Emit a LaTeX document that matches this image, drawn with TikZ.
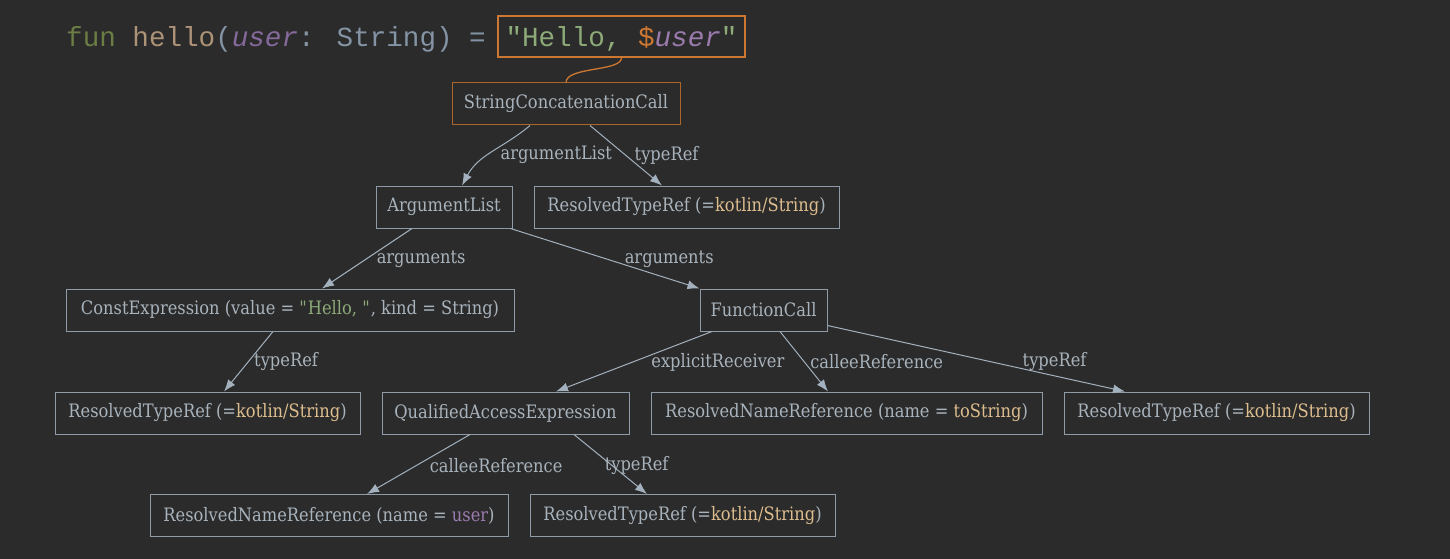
\documentclass[tikz,border=0pt]{standalone}
\usepackage{fontspec}
\setmainfont{DejaVu Serif}[FakeStretch=0.88]
\newfontfamily\codefont{Liberation Mono}
\usetikzlibrary{arrows.meta,calc}
\definecolor{bg}{HTML}{2B2B2B}
\definecolor{fg}{HTML}{A9B3BC}
\definecolor{edgecol}{HTML}{A3B1BE}
\definecolor{boxcol}{HTML}{8F9BA6}
\definecolor{orng}{HTML}{CC7832}
\definecolor{strgreen}{HTML}{8DAA78}
\definecolor{tan}{HTML}{DDBD8E}
\definecolor{purp}{HTML}{9B7BAE}
\definecolor{cfun}{HTML}{6B7D45}
\definecolor{chello}{HTML}{AC9277}
\definecolor{cpunct}{HTML}{8494A4}
\definecolor{cuser}{HTML}{85699A}
\tikzset{
  astnode/.style={draw=boxcol, line width=1pt, text=fg, font=\fontsize{18.5}{22}\selectfont, minimum height=42pt, inner sep=0pt},
  rootnode/.style={astnode, draw=orng!85!black},
  edge/.style={draw=edgecol, line width=1pt, -{Latex[length=12pt,width=9pt]}},
  lbl/.style={text=fg, font=\fontsize{18.5}{22}\selectfont, anchor=west, inner sep=0pt, yshift=-2pt},
  codetext/.style={font=\codefont\fontsize{27.6}{30}\selectfont}
}
\begin{document}
\begin{tikzpicture}[x=1pt,y=-1pt]
\useasboundingbox (0,0) rectangle (1450,559);
\fill[bg] (0,0) rectangle (1450,559);
% code line
\node[codetext, anchor=base west, inner sep=0pt] (code) at (66,47)
  {\textcolor{cfun}{fun} \textcolor{chello}{hello}\textcolor{cpunct}{(}\textcolor{cuser}{\itshape user}\textcolor{cpunct}{: String) =}};
\node[codetext, draw=orng, line width=1.5pt, minimum width=247pt, minimum height=41pt, inner sep=0pt, text height=21pt, text depth=0pt] (codebox) at (621.5,36.5)
  {\textcolor{strgreen}{\textquotedbl Hello, }\textcolor{orng}{\$}\textcolor{purp}{\itshape user}\textcolor{strgreen}{\textquotedbl}};
% nodes
\node[rootnode, minimum width=228pt] (scc) at (566,104) {StringConcatenationCall};
\node[astnode, minimum width=136pt] (al) at (444,207) {ArgumentList};
\node[astnode, minimum width=305pt] (rtr1) at (686.5,207) {ResolvedTypeRef (=\textcolor{tan}{kotlin/String})};
\node[astnode, minimum width=448pt] (ce) at (290,310) {ConstExpression (value = \textcolor{strgreen}{\textquotedbl Hello, \textquotedbl}, kind = String)};
\node[astnode, minimum width=127pt] (fc) at (763.5,310) {FunctionCall};
\node[astnode, minimum width=305pt] (rtr2) at (207.5,413) {ResolvedTypeRef (=\textcolor{tan}{kotlin/String})};
\node[astnode, minimum width=247pt] (qae) at (505.5,413) {QualifiedAccessExpression};
\node[astnode, minimum width=391pt] (rnr1) at (846.5,413) {ResolvedNameReference (name = \textcolor{tan}{toString})};
\node[astnode, minimum width=305pt] (rtr3) at (1216.5,413) {ResolvedTypeRef (=\textcolor{tan}{kotlin/String})};
\node[astnode, minimum width=358pt] (rnr2) at (329,515.5) {ResolvedNameReference (name = \textcolor{purp}{user})};
\node[astnode, minimum width=305pt] (rtr4) at (682.5,515.5) {ResolvedTypeRef (=\textcolor{tan}{kotlin/String})};
% orange link
\draw[orng, line width=1.3pt] (codebox.south) .. controls ($(codebox.south)+(0,14)$) and ($(scc.north)+(0,-16)$) .. (scc.north);
% edges
\draw[edge] ([xshift=-36pt]scc.south) to[out=-140,in=62] node[lbl, pos=0.5, xshift=8pt] {argumentList} ([xshift=18pt]al.north);
\draw[edge] ([xshift=24pt]scc.south) -- node[lbl, pos=0.475, xshift=10pt] {typeRef} ([xshift=-24.5pt]rtr1.north);
\draw[edge] ([xshift=-32pt]al.south) -- node[lbl, pos=0.475, xshift=7pt] {arguments} ([xshift=32pt]ce.north);
\draw[edge] ([xshift=-2pt]al.south east) -- node[lbl, pos=0.475, xshift=24pt] {arguments} (fc.north west);
\draw[edge] ([xshift=-17pt]ce.south) -- node[lbl, pos=0.475, xshift=4pt] {typeRef} ([xshift=16.5pt]rtr2.north);
\draw[edge] ([xshift=-51.5pt]fc.south) -- node[lbl, pos=0.475, xshift=13pt] {explicitReceiver} ([xshift=50.5pt]qae.north);
\draw[edge] ([xshift=16.5pt]fc.south) -- node[lbl, pos=0.475, xshift=7pt] {calleeReference} ([xshift=-18.5pt]rnr1.north);
\draw[edge] ([yshift=6pt]fc.south east) -- node[lbl, pos=0.52, xshift=40pt] {typeRef} ([xshift=-91.5pt]rtr3.north);
\draw[edge] ([xshift=-35.5pt]qae.south) -- node[lbl, pos=0.483, xshift=9pt] {calleeReference} ([xshift=38pt]rnr2.north);
\draw[edge] ([xshift=68.5pt]qae.south) -- node[lbl, pos=0.483, xshift=-5pt] {typeRef} ([xshift=-35.5pt]rtr4.north);
\end{tikzpicture}
\end{document}
